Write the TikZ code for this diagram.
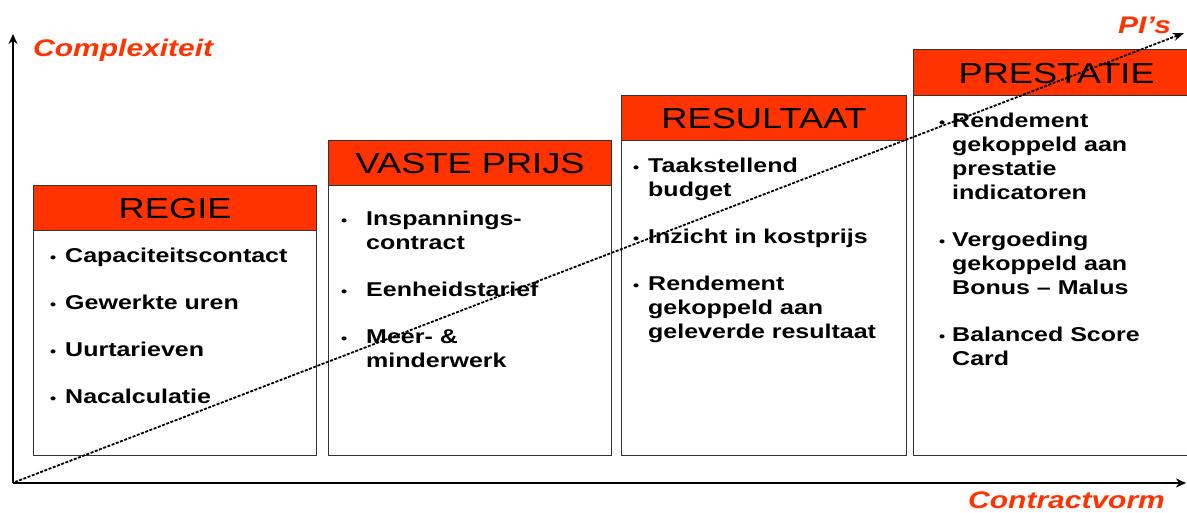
\documentclass[tikz,border=0pt]{standalone}
\usepackage{fontspec}
\setmainfont{Liberation Sans}[FakeStretch=1.25]
\usetikzlibrary{arrows.meta}
\definecolor{hdr}{HTML}{FF3300}
\definecolor{lbl}{HTML}{FF3300}
\definecolor{frame}{HTML}{333333}
\tikzset{
  bodybox/.style={draw=frame, line width=1.3pt, fill=white, anchor=north west, inner sep=0pt},
  hdrbox/.style={draw=frame, line width=1.3pt, fill=hdr, anchor=north west, inner sep=0pt,
    font=\fontsize{29}{29}\selectfont, text height=21pt, text depth=0pt},
  bodytext/.style={font=\bfseries\fontsize{20}{24}\selectfont, align=left, anchor=base west, inner sep=0pt},
  axisline/.style={line width=2.2pt, -{Stealth[length=10pt,width=9pt]}},
  axlabel/.style={font=\bfseries\itshape\fontsize{24}{24}\selectfont, text=lbl, inner sep=0pt, anchor=base west},
  trend/.style={line width=1.8pt, dash pattern=on 3pt off 1.5pt, -{Stealth[length=11pt,width=8pt]}}
}
\newcommand{\itm}[1]{\llap{\fontsize{14}{14}\selectfont\textbullet\hspace{#1}}}
\begin{document}
\begin{tikzpicture}[x=1pt,y=-1pt]
\useasboundingbox (0,0) rectangle (1187,512);
\clip (0,0) rectangle (1187,512);
\fill[white] (0,0) rectangle (1187,512);

% boxes
\node[bodybox, minimum width=283, minimum height=225] (p1) at (33,230) {};
\node[hdrbox, minimum width=283, minimum height=45] (h1) at (33,185) {REGIE};
\node[bodybox, minimum width=283, minimum height=270] (p2) at (328,185) {};
\node[hdrbox, minimum width=283, minimum height=45] (h2) at (328,140) {VASTE PRIJS};
\node[bodybox, minimum width=285, minimum height=315] (p3) at (621,140) {};
\node[hdrbox, minimum width=285, minimum height=45] (h3) at (621,95) {RESULTAAT};
\node[bodybox, minimum width=286, minimum height=360] (p4) at (913,95) {};
\node[hdrbox, minimum width=286, minimum height=46] (h4) at (913,49) {PRESTATIE};

% body texts (anchored at the baseline of the last line)
\node[bodytext] (t1) at (65,403) {\itm{9pt}Capaciteitscontact\\[23pt]\itm{9pt}Gewerkte uren\\[23pt]\itm{9pt}Uurtarieven\\[23pt]\itm{9pt}Nacalculatie};
\node[bodytext] (t2) at (366,367) {\itm{19pt}Inspannings-\\contract\\[23pt]\itm{19pt}Eenheidstarief\\[23pt]\itm{19pt}Meer- \&\\minderwerk};
\node[bodytext] (t3) at (648,338) {\itm{9pt}Taakstellend\\budget\\[23pt]\itm{9pt}Inzicht in kostprijs\\[23pt]\itm{9pt}Rendement\\gekoppeld aan\\geleverde resultaat};
\node[bodytext] (t4) at (952,365) {\itm{7pt}Rendement\\gekoppeld aan\\prestatie\\indicatoren\\[23pt]\itm{7pt}Vergoeding\\gekoppeld aan\\Bonus – Malus\\[23pt]\itm{7pt}Balanced Score\\Card};

% axes
\coordinate (O) at (13,483);
\coordinate (ytop) at (13,34);
\coordinate (xend) at (1186,483);
\draw[axisline] (O) -- (ytop);
\draw[axisline] (O) -- (xend);

% trend line
\coordinate (s0) at (15,482);
\coordinate (s1) at (1184,33);
\draw[trend] (s0) -- (s1);

% labels
\node[axlabel] (ylab) at (33,56) {Complexiteit};
\node[axlabel] (xlab) at (968,508) {Contractvorm};
\node[axlabel] (pis) at (1118,33) {PI’s};
\end{tikzpicture}
\end{document}
